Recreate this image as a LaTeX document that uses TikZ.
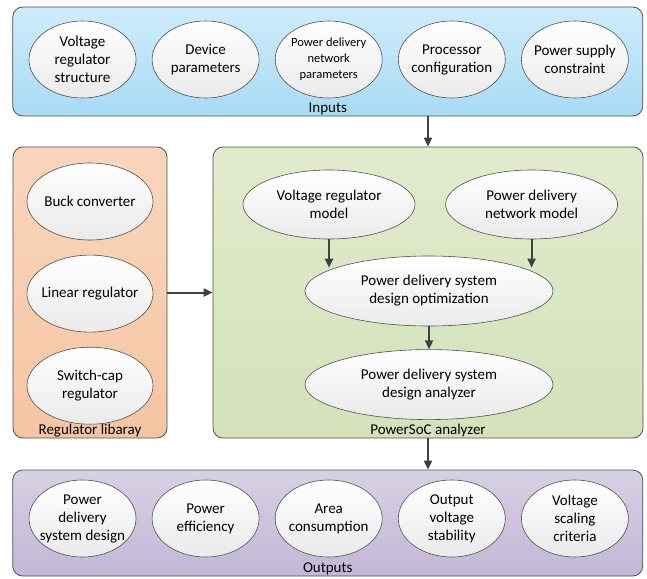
\documentclass[tikz,border=0pt]{standalone}
\usepackage{fontspec}
\setmainfont{Carlito}
\usepackage{tikz}
\usetikzlibrary{shapes.geometric, arrows.meta, positioning, calc}
\definecolor{mydark}{RGB}{80,80,80}
\definecolor{myarrow}{RGB}{64,64,64}
\definecolor{blutop}{RGB}{206,236,251}
\definecolor{blubot}{RGB}{168,219,245}
\definecolor{orgtop}{RGB}{250,214,188}
\definecolor{orgbot}{RGB}{245,197,163}
\definecolor{grntop}{RGB}{226,235,206}
\definecolor{grnbot}{RGB}{212,225,185}
\definecolor{purtop}{RGB}{216,208,228}
\definecolor{purbot}{RGB}{194,183,213}
\definecolor{ovalgray}{RGB}{234,234,234}
\tikzset{
  panel/.style={rectangle, draw=mydark, rounded corners=10pt, line width=0.8pt},
  oval/.style={ellipse, draw=mydark, top color=white, bottom color=ovalgray,
    minimum width=107pt, minimum height=77pt, align=center,
    inner xsep=-12pt, inner ysep=0pt,
    font=\fontsize{15}{18}\selectfont, line width=0.6pt},
  regoval/.style={oval, minimum width=126pt},
  modeloval/.style={oval, minimum width=172pt, minimum height=69pt},
  designoval/.style={oval, minimum width=248pt, minimum height=70pt},
  caption/.style={anchor=base, inner sep=0pt, font=\fontsize{15}{18}\selectfont},
  arrow/.style={-{Triangle[length=9pt, width=8pt]}, line width=2pt, color=myarrow}
}

\begin{document}
\begin{tikzpicture}[x=1pt, y=-1pt, node distance=15.5pt]
  \useasboundingbox (0,0) rectangle (647,578);
  % panels
  \node[panel, top color=blutop, bottom color=blubot, minimum width=630pt,
    minimum height=109pt] (inputs) at (327.75,61.5) {};
  \node[panel, top color=orgtop, bottom color=orgbot, minimum width=154pt,
    minimum height=291pt] (reglib) at (90,292.5) {};
  \node[panel, top color=grntop, bottom color=grnbot, minimum width=430pt,
    minimum height=291pt] (soc) at (428,292.5) {};
  \node[panel, top color=purtop, bottom color=purbot, minimum width=630pt,
    minimum height=106pt] (outputs) at (327.75,523) {};
  \node[caption] (inputslbl) at ($(inputs.south)+(0,4pt)$) {Inputs};
  \node[caption] (reglbl) at ($(reglib.south)+(0,4pt)$) {Regulator libaray};
  \node[caption] (soclbl) at ($(soc.south)+(0,4pt)$) {PowerSoC analyzer};
  \node[caption] (outputslbl) at ($(outputs.south)+(0,4pt)$) {Outputs};

  % inputs
  \node[oval] (vrstruct) at (82.5,59.5) {Voltage\\regulator\\structure};
  \node[oval, right=of vrstruct] (devpar) {Device\\parameters};
  \node[oval, right=of devpar, font=\fontsize{12.5}{16}\selectfont] (pdnpar) {Power delivery\\network\\parameters};
  \node[oval, right=of pdnpar] (proccfg) {Processor\\configuration};
  \node[oval, right=of proccfg] (supply) {Power supply\\constraint};

  % regulator library
  \node[regoval] (buck) at (90,201.5) {Buck converter};
  \node[regoval, below=14.5pt of buck] (linear) {Linear regulator};
  \node[regoval, below=14.5pt of linear] (switchcap) {Switch-cap\\regulator};

  % PowerSoC analyzer
  \node[modeloval] (vrm) at (329,204.5) {Voltage regulator\\model};
  \node[modeloval, right=30pt of vrm] (pdnm) {Power delivery\\network model};
  \node[designoval] (opt) at (429,291) {Power delivery system\\design optimization};
  \node[designoval, below=23pt of opt] (analyzer) {Power delivery system\\design analyzer};

  % outputs
  \node[oval] (pdsd) at (82.5,518.5) {Power\\delivery\\system design};
  \node[oval, right=of pdsd] (eff) {Power\\efficiency};
  \node[oval, right=of eff] (area) {Area\\consumption};
  \node[oval, right=of area] (stab) {Output\\voltage\\stability};
  \node[oval, right=of stab] (scaling) {Voltage\\scaling\\criteria};

  % connectors
  \draw[arrow] (inputs.south -| soc.north) -- (soc.north);
  \draw[arrow] (reglib.east) -- (reglib.east -| soc.west);
  \draw[arrow] (soc.south) -- (soc.south |- outputs.north);
  \draw[arrow] (vrm.south) -- ($(vrm.south |- opt.north)+(0,-12pt)$);
  \draw[arrow] (pdnm.south) -- ($(pdnm.south |- opt.north)+(0,-12pt)$);
  \draw[arrow] (opt.south) -- (analyzer.north);
\end{tikzpicture}
\end{document}
